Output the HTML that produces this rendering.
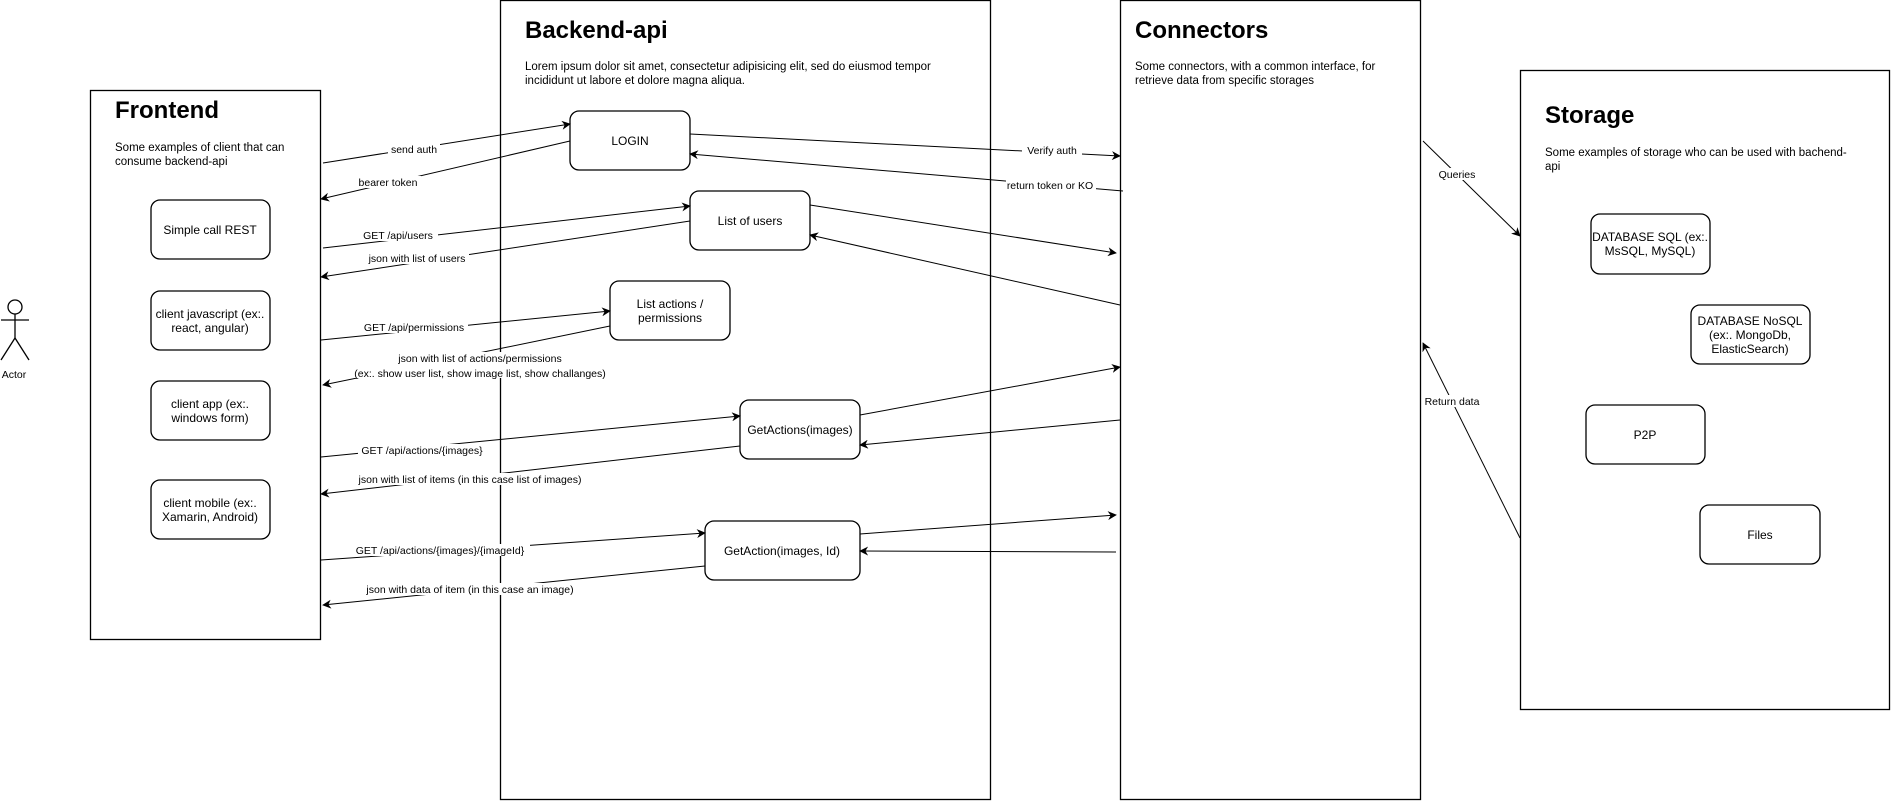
<!DOCTYPE html>
<html><head><meta charset="utf-8"><style>
html,body{margin:0;padding:0;background:#fff}
svg{display:block}
text{font-family:"Liberation Sans",Arial,sans-serif;fill:#000}
.t{font-size:24px;font-weight:bold}
.d{font-size:11.5px}
.b{font-size:12px}
.l{font-size:10.5px}
.bg{fill:#fff}
</style></head><body>
<svg width="1891" height="801" viewBox="0 0 1891 801" xmlns="http://www.w3.org/2000/svg">
<defs>
<marker id="a" viewBox="0 0 10 10" refX="9" refY="5" markerWidth="9" markerHeight="9" orient="auto" markerUnits="userSpaceOnUse">
<path d="M0,0 L10,5 L0,10 L3,5 Z" fill="#000"/></marker>
</defs>
<g fill="none" stroke="#000" stroke-width="1.3">
<rect x="90.5" y="90.5" width="230" height="549"/>
<rect x="500.5" y="0.5" width="490" height="799"/>
<rect x="1120.5" y="0.5" width="300" height="799"/>
<rect x="1520.5" y="70.5" width="369" height="639"/>
<rect x="151" y="200" width="119" height="59" rx="9"/>
<rect x="151" y="291" width="119" height="59" rx="9"/>
<rect x="151" y="381" width="119" height="59" rx="9"/>
<rect x="151" y="480" width="119" height="59" rx="9"/>
<rect x="570" y="111" width="120" height="59" rx="9"/>
<rect x="690" y="191" width="120" height="59" rx="9"/>
<rect x="610" y="281" width="120" height="59" rx="9"/>
<rect x="740" y="400" width="120" height="59" rx="9"/>
<rect x="705" y="521" width="155" height="59" rx="9"/>
<rect x="1591" y="214" width="119" height="60" rx="9"/>
<rect x="1691" y="305" width="119" height="59" rx="9"/>
<rect x="1586" y="405" width="119" height="59" rx="9"/>
<rect x="1700" y="505" width="120" height="59" rx="9"/>
<!-- actor -->
<circle cx="15" cy="307" r="7"/>
<line x1="15" y1="314" x2="15" y2="338"/>
<line x1="1" y1="320" x2="29" y2="320"/>
<line x1="15" y1="338" x2="1" y2="360"/>
<line x1="15" y1="338" x2="29" y2="360"/>
</g>
<g fill="none" stroke="#000" stroke-width="1" marker-end="url(#a)">
<line x1="323" y1="163" x2="570" y2="124"/>
<line x1="570" y1="141" x2="321" y2="199"/>
<line x1="690" y1="134" x2="1120" y2="156"/>
<line x1="1123" y1="191" x2="690" y2="154"/>
<line x1="323" y1="248" x2="690" y2="206"/>
<line x1="690" y1="221" x2="321" y2="277"/>
<line x1="810" y1="205" x2="1116" y2="253"/>
<line x1="1120" y1="305" x2="810" y2="235"/>
<line x1="321" y1="340" x2="610" y2="311"/>
<line x1="610" y1="326" x2="323" y2="385"/>
<line x1="860" y1="415" x2="1120" y2="367"/>
<line x1="1120" y1="420" x2="860" y2="445"/>
<line x1="321" y1="457" x2="740" y2="416"/>
<line x1="740" y1="446" x2="321" y2="494"/>
<line x1="860" y1="534" x2="1116" y2="515"/>
<line x1="1116" y1="552" x2="860" y2="551"/>
<line x1="321" y1="560" x2="705" y2="533"/>
<line x1="705" y1="566" x2="323" y2="605"/>
<line x1="1423" y1="141" x2="1520" y2="236"/>
<line x1="1520" y1="538" x2="1423" y2="343"/>
</g>
<text class="t" x="115" y="118">Frontend</text>
<text class="d" x="115" y="151">Some examples of client that can</text>
<text class="d" x="115" y="165">consume backend-api</text>
<text class="t" x="525" y="38">Backend-api</text>
<text class="d" x="525" y="70">Lorem ipsum dolor sit amet, consectetur adipisicing elit, sed do eiusmod tempor</text>
<text class="d" x="525" y="84">incididunt ut labore et dolore magna aliqua.</text>
<text class="t" x="1135" y="38">Connectors</text>
<text class="d" x="1135" y="70">Some connectors, with a common interface, for</text>
<text class="d" x="1135" y="84">retrieve data from specific storages</text>
<text class="t" x="1545" y="123">Storage</text>
<text class="d" x="1545" y="156">Some examples of storage who can be used with bachend-</text>
<text class="d" x="1545" y="170">api</text>
<g class="b" text-anchor="middle">
<text x="210" y="234">Simple call REST</text>
<text x="210" y="318">client javascript (ex:.</text><text x="210" y="332">react, angular)</text>
<text x="210" y="408">client app (ex:.</text><text x="210" y="422">windows form)</text>
<text x="210" y="507">client mobile (ex:.</text><text x="210" y="521">Xamarin, Android)</text>
<text x="630" y="145">LOGIN</text>
<text x="750" y="225">List of users</text>
<text x="670" y="308">List actions /</text><text x="670" y="322">permissions</text>
<text x="800" y="434">GetActions(images)</text>
<text x="782" y="555">GetAction(images, Id)</text>
<text x="1650" y="241">DATABASE SQL (ex:.</text><text x="1650" y="255">MsSQL, MySQL)</text>
<text x="1750" y="325">DATABASE NoSQL</text><text x="1750" y="339">(ex:. MongoDb,</text><text x="1750" y="353">ElasticSearch)</text>
<text x="1645" y="439">P2P</text>
<text x="1760" y="539">Files</text>
</g>
<text class="l" x="14" y="378" text-anchor="middle">Actor</text>
<g class="l" text-anchor="middle">
<rect class="bg" x="388" y="143" width="52" height="12"/><text x="414" y="153">send auth</text>
<rect class="bg" x="355" y="176" width="66" height="12"/><text x="388" y="186">bearer token</text>
<rect class="bg" x="1022" y="144" width="60" height="12"/><text x="1052" y="154">Verify auth</text>
<rect class="bg" x="1006" y="179" width="90" height="12"/><text x="1050" y="189">return token or KO</text>
<rect class="bg" x="358" y="229" width="80" height="12"/><text x="398" y="239">GET /api/users</text>
<rect class="bg" x="365" y="252" width="104" height="12"/><text x="417" y="262">json with list of users</text>
<rect class="bg" x="360" y="321" width="108" height="12"/><text x="414" y="331">GET /api/permissions</text>
<rect class="bg" x="350" y="352" width="262" height="26"/><text x="480" y="362">json with list of actions/permissions</text><text x="480" y="377">(ex:. show user list, show image list, show challanges)</text>
<rect class="bg" x="358" y="444" width="128" height="12"/><text x="422" y="454">GET /api/actions/{images}</text>
<rect class="bg" x="352" y="473" width="236" height="12"/><text x="470" y="483">json with list of items (in this case list of images)</text>
<rect class="bg" x="350" y="544" width="180" height="12"/><text x="440" y="554">GET /api/actions/{images}/{imageId}</text>
<rect class="bg" x="362" y="583" width="216" height="12"/><text x="470" y="593">json with data of item (in this case an image)</text>
<rect class="bg" x="1437" y="168" width="40" height="12"/><text x="1457" y="178">Queries</text>
<rect class="bg" x="1424" y="395" width="56" height="12"/><text x="1452" y="405">Return data</text>
</g>
</svg>
</body></html>
